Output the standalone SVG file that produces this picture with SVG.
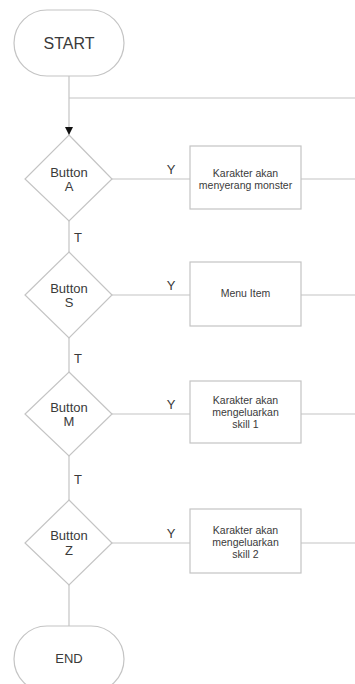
<svg xmlns="http://www.w3.org/2000/svg" width="355" height="684" viewBox="0 0 355 684">
<defs>
<style>
.shape{fill:#fff;stroke:#c4c4c4;stroke-width:1.2}
.line{fill:none;stroke:#c4c4c4;stroke-width:1.2}
text{font-family:"Liberation Sans",Arial,sans-serif;fill:#3a3a3a;text-anchor:middle}
.big{font-size:16px}
.mid{font-size:13px}
.sm{font-size:10.5px}
.lbl{font-size:13px}
</style>
<marker id="arr" markerWidth="8" markerHeight="8" refX="8" refY="4" orient="auto" markerUnits="userSpaceOnUse">
<path d="M0,0 L8,4 L0,8 Z" fill="#111"/>
</marker>
</defs>
<rect width="355" height="684" fill="#fff"/>
<g id="connectors">
<path class="line" d="M69,76 V135" marker-end="url(#arr)"/>
<path class="line" d="M69,98 H355"/>
<path class="line" d="M112,179 H190 M301,179 H355"/>
<path class="line" d="M69,221 V252"/>
<path class="line" d="M112,295 H190 M301,295 H355"/>
<path class="line" d="M69,338 V372"/>
<path class="line" d="M112,414 H190 M301,414 H355"/>
<path class="line" d="M69,456 V500"/>
<path class="line" d="M112,543 H190 M301,543 H355"/>
<path class="line" d="M69,585 V626"/>
<text class="lbl" x="171" y="174">Y</text>
<text class="lbl" x="171" y="290">Y</text>
<text class="lbl" x="171" y="409">Y</text>
<text class="lbl" x="171" y="538">Y</text>
<text class="lbl" x="78" y="242">T</text>
<text class="lbl" x="78" y="363">T</text>
<text class="lbl" x="78" y="484">T</text>
</g>
<g id="start">
<rect class="shape" x="14" y="10" width="110" height="66" rx="33"/>
<text class="big" x="69" y="49">START</text>
</g>
<g id="buttonA">
<polygon class="shape" points="69,135 112,179 69,221 25,179"/>
<text class="mid" x="69" y="177">Button</text>
<text class="mid" x="69" y="191">A</text>
</g>
<g id="actionA">
<rect class="shape" x="190" y="146" width="111" height="63"/>
<text class="sm" x="245.5" y="177">Karakter akan</text>
<text class="sm" x="245.5" y="189">menyerang monster</text>
</g>
<g id="buttonS">
<polygon class="shape" points="69,252 112,295 69,338 25,295"/>
<text class="mid" x="69" y="293">Button</text>
<text class="mid" x="69" y="307">S</text>
</g>
<g id="actionS">
<rect class="shape" x="190" y="262" width="111" height="64"/>
<text class="sm" x="245.5" y="297">Menu Item</text>
</g>
<g id="buttonM">
<polygon class="shape" points="69,372 112,414 69,456 25,414"/>
<text class="mid" x="69" y="412">Button</text>
<text class="mid" x="69" y="426">M</text>
</g>
<g id="actionM">
<rect class="shape" x="190" y="381" width="111" height="62"/>
<text class="sm" x="245.5" y="404">Karakter akan</text>
<text class="sm" x="245.5" y="416">mengeluarkan</text>
<text class="sm" x="245.5" y="428">skill 1</text>
</g>
<g id="buttonZ">
<polygon class="shape" points="69,500 112,543 69,585 25,543"/>
<text class="mid" x="69" y="540">Button</text>
<text class="mid" x="69" y="555">Z</text>
</g>
<g id="actionZ">
<rect class="shape" x="190" y="509" width="111" height="64"/>
<text class="sm" x="245.5" y="534">Karakter akan</text>
<text class="sm" x="245.5" y="546">mengeluarkan</text>
<text class="sm" x="245.5" y="558">skill 2</text>
</g>
<g id="end">
<rect class="shape" x="14" y="626" width="110" height="66" rx="33"/>
<text class="mid" x="69" y="663">END</text>
</g>
</svg>
